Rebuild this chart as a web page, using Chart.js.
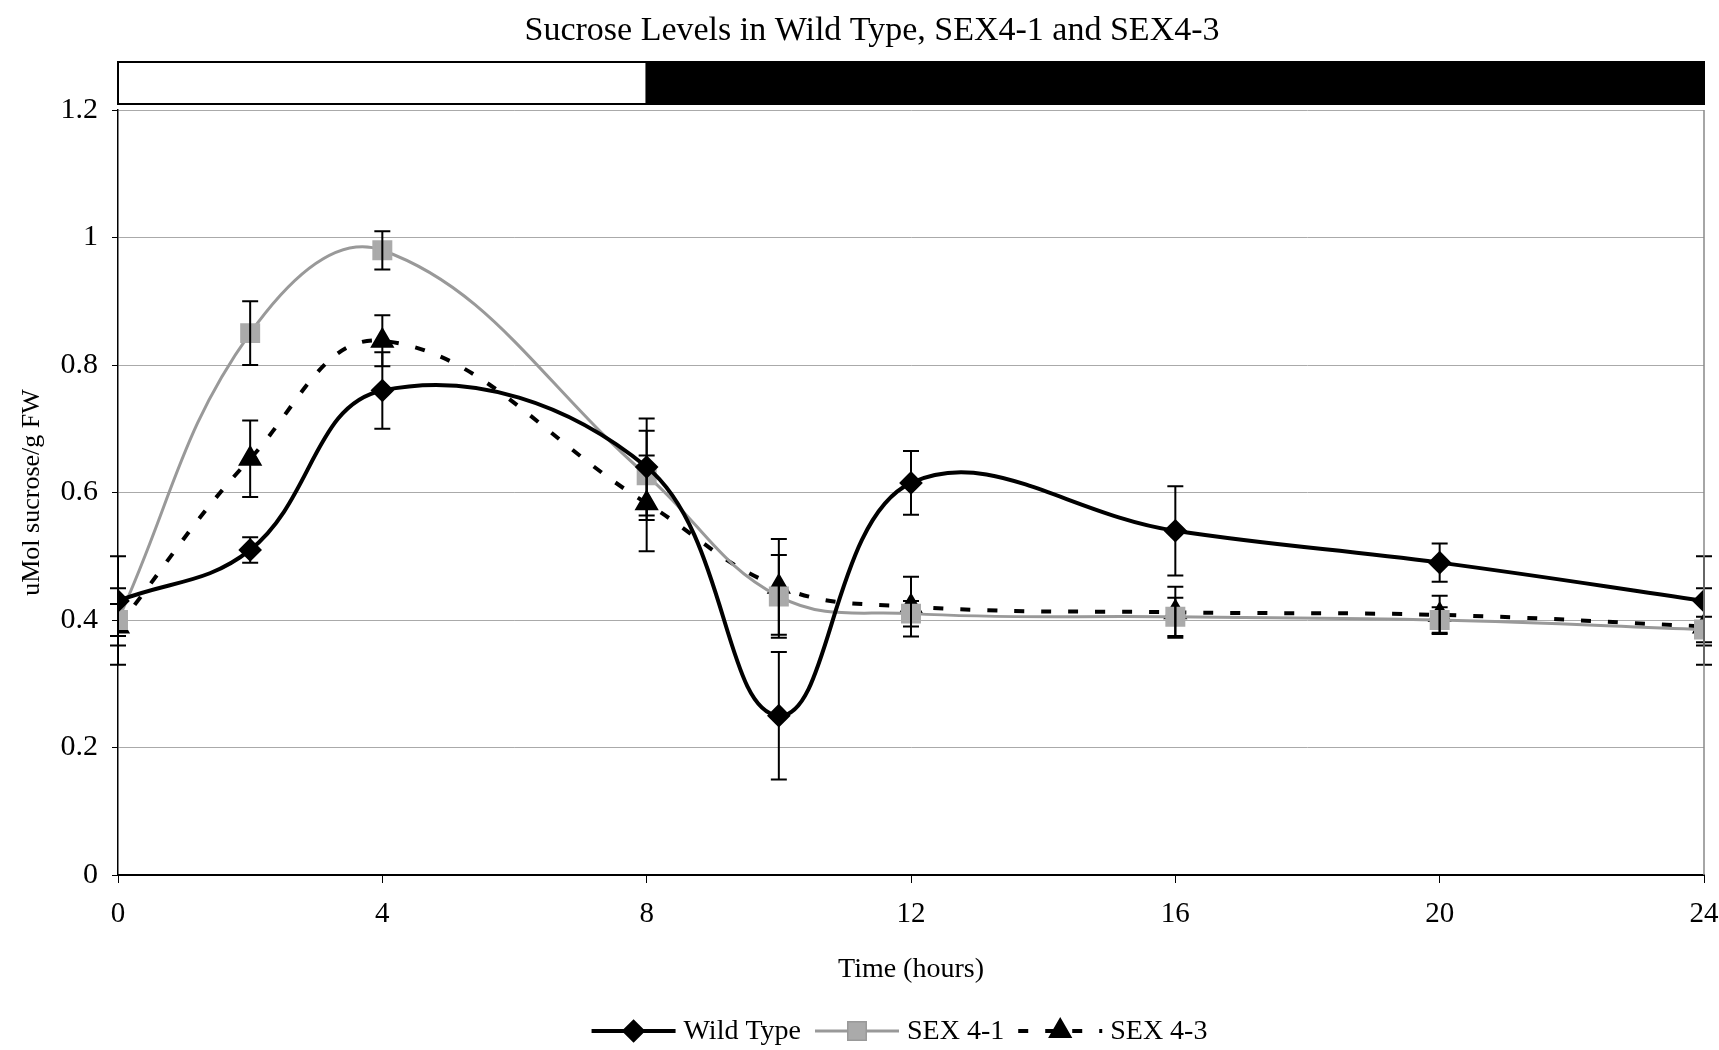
<!DOCTYPE html>
<html>
<head>
<meta charset="utf-8">
<script src="https://cdn.jsdelivr.net/npm/chart.js@4"></script>
<style>
  html, body { margin: 0; padding: 0; background: #fff; }
  #wrap { width: 1719px; height: 1050px; position: relative; }
</style>
</head>
<body>
<div id="wrap"><canvas id="sucroseChart"></canvas></div>
<script>
// data (uMol sucrose / g FW)
const hours = [0, 2, 4, 8, 10, 12, 16, 20, 24];
const wildType = [0.43, 0.51, 0.76, 0.64, 0.25, 0.615, 0.54, 0.49, 0.43];
const wildTypeErr = [0.07, 0.02, 0.06, 0.076, 0.10, 0.05, 0.07, 0.03, 0.07];
const sex41 = [0.40, 0.85, 0.98, 0.627, 0.437, 0.41, 0.405, 0.40, 0.385];
const sex41Err = [0.025, 0.05, 0.03, 0.07, 0.065, 0.02, 0.03, 0.02, 0.02];
const sex43 = [0.39, 0.653, 0.838, 0.583, 0.452, 0.421, 0.412, 0.408, 0.39];
const sex43Err = [0.06, 0.06, 0.04, 0.075, 0.075, 0.047, 0.04, 0.03, 0.06];

// light / dark bar above the plot
const periodStart = [0, 8];
const periodEnd = [8, 24];
const periodColor = ['#ffffff', '#000000'];

const chartTitle = 'Sucrose Levels in Wild Type, SEX4-1 and SEX4-3';
const seriesNames = ['Wild Type', 'SEX 4-1', 'SEX 4-3'];
const errors = [wildTypeErr, sex41Err, sex43Err];

const FONT = '"Liberation Serif", "Times New Roman", serif';

function points(values) {
  return hours.map((h, i) => ({ x: h, y: values[i] }));
}

// error bars drawn through the chart's scales
const errorBars = {
  id: 'errorBars',
  afterDatasetsDraw(chart) {
    const ctx = chart.ctx;
    const xs = chart.scales.x, ys = chart.scales.y;
    ctx.save();
    ctx.strokeStyle = '#000';
    ctx.lineWidth = 2;
    chart.data.datasets.forEach((ds, d) => {
      ds.data.forEach((p, i) => {
        const e = errors[d][i];
        const x = xs.getPixelForValue(p.x);
        const yTop = ys.getPixelForValue(p.y + e);
        const yBot = ys.getPixelForValue(p.y - e);
        ctx.beginPath();
        ctx.moveTo(x, yTop); ctx.lineTo(x, yBot);
        ctx.moveTo(x - 8, yTop); ctx.lineTo(x + 8, yTop);
        ctx.moveTo(x - 8, yBot); ctx.lineTo(x + 8, yBot);
        ctx.stroke();
      });
    });
    ctx.restore();
  }
};

// title, light/dark bar, right border and the legend at the bottom
const decorations = {
  id: 'decorations',
  afterDraw(chart) {
    const ctx = chart.ctx;
    const area = chart.chartArea;
    const xs = chart.scales.x;
    ctx.save();

    // title (a little right of the canvas centre, as in the figure)
    ctx.font = '34px ' + FONT;
    ctx.fillStyle = '#000';
    ctx.textAlign = 'center';
    ctx.textBaseline = 'middle';
    ctx.fillText(chartTitle, 872, 31);
    ctx.textAlign = 'left';

    // right frame line
    ctx.strokeStyle = '#888';
    ctx.lineWidth = 1.5;
    ctx.beginPath();
    ctx.moveTo(area.right, area.top);
    ctx.lineTo(area.right, area.bottom);
    ctx.stroke();

    // day/night bar
    const top = area.top - 48, h = 42;
    periodStart.forEach((s, i) => {
      const x0 = xs.getPixelForValue(s);
      const x1 = xs.getPixelForValue(periodEnd[i]);
      ctx.fillStyle = periodColor[i];
      ctx.fillRect(x0, top, x1 - x0, h);
      ctx.strokeStyle = '#000';
      ctx.lineWidth = 2;
      ctx.strokeRect(x0, top, x1 - x0, h);
    });

    // legend
    ctx.font = '28px ' + FONT;
    ctx.textBaseline = 'middle';
    const lineLen = 84, gapText = 8, gapItem = 14;
    const widths = seriesNames.map(n => ctx.measureText(n).width);
    const total = widths.reduce((a, w) => a + lineLen + gapText + w, 0) + gapItem * 2;
    let x = chart.width / 2 + 40 - total / 2;
    const y = 1031;
    chart.data.datasets.forEach((ds, d) => {
      ctx.strokeStyle = ds.borderColor;
      ctx.lineWidth = ds.borderWidth;
      ctx.setLineDash(ds.borderDash || []);
      ctx.beginPath();
      ctx.moveTo(x, y); ctx.lineTo(x + lineLen, y);
      ctx.stroke();
      ctx.setLineDash([]);
      Chart.helpers.drawPoint(ctx, {
        pointStyle: ds.pointStyle,
        radius: ds.pointRadius,
        borderWidth: 1,
        rotation: 0
      }, x + lineLen / 2, y);
      ctx.fillStyle = ds.pointBackgroundColor;
      ctx.fill();
      ctx.fillStyle = '#000';
      ctx.fillText(seriesNames[d], x + lineLen + gapText, y + 1);
      x += lineLen + gapText + widths[d] + gapItem;
    });
    ctx.restore();
  }
};

new Chart(document.getElementById('sucroseChart'), {
  type: 'line',
  data: {
    datasets: [
      {
        label: seriesNames[0],
        data: points(wildType),
        borderColor: '#000',
        borderWidth: 4,
        pointStyle: 'rectRot',
        pointRadius: 9,
        pointBackgroundColor: '#000',
        pointBorderColor: '#000',
        tension: 0.4
      },
      {
        label: seriesNames[1],
        data: points(sex41),
        borderColor: '#999',
        borderWidth: 3,
        pointStyle: 'rect',
        pointRadius: 12,
        pointBackgroundColor: '#aaa',
        pointBorderColor: '#aaa',
        tension: 0.4
      },
      {
        label: seriesNames[2],
        data: points(sex43),
        borderColor: '#000',
        borderWidth: 4,
        borderDash: [10, 17],
        pointStyle: 'triangle',
        pointRadius: 10,
        pointBackgroundColor: '#000',
        pointBorderColor: '#000',
        tension: 0.4
      }
    ]
  },
  options: {
    responsive: true,
    maintainAspectRatio: false,
    animation: false,
    layout: { padding: { left: 0, right: 0, top: 110, bottom: 62 } },
    plugins: {
      legend: { display: false },
      tooltip: { enabled: false },
      title: { display: false }
    },
    scales: {
      x: {
        type: 'linear',
        min: 0,
        max: 24,
        afterFit(scale) {
          scale.height = 113;
          scale.paddingRight = 15;
        },
        ticks: { stepSize: 4, color: '#000', padding: 14, font: { family: FONT, size: 29 } },
        grid: { drawOnChartArea: false, tickLength: 8, tickColor: '#000', tickWidth: 1 },
        border: { color: '#000', width: 2 },
        title: {
          display: true,
          text: 'Time (hours)',
          color: '#000',
          font: { family: FONT, size: 28 },
          padding: { top: 4, bottom: 2 }
        }
      },
      y: {
        min: 0,
        max: 1.2,
        afterFit(scale) { scale.width = 118; },
        ticks: {
          stepSize: 0.2,
          color: '#000',
          padding: 14,
          font: { family: FONT, size: 30 },
          callback: v => String(Math.round(v * 10) / 10)
        },
        grid: { color: '#aaa', lineWidth: 1, tickLength: 6, tickColor: '#000' },
        border: { color: '#000', width: 1.5 },
        title: {
          display: true,
          text: 'uMol sucrose/g FW',
          color: '#000',
          font: { family: FONT, size: 26 },
          padding: { top: 17, bottom: 0 }
        }
      }
    }
  },
  plugins: [errorBars, decorations]
});
</script>
</body>
</html>
